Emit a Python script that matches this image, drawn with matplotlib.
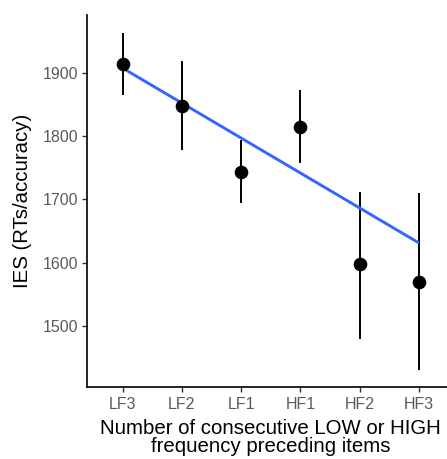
import matplotlib
matplotlib.use("Agg")
import matplotlib.pyplot as plt

plt.rcParams['font.family'] = ['Liberation Sans', 'DejaVu Sans']

# Conditions, in order of preceding-item frequency run
conditions = ["LF3", "LF2", "LF1", "HF1", "HF2", "HF3"]
ies_mean = [1915, 1848, 1744, 1815, 1597, 1570]
ies_upper = [1964, 1919, 1794, 1873, 1712, 1710]
ies_lower = [1865, 1778, 1694, 1757, 1479, 1430]

# Fitted linear trend at the first and last condition
fit_ends = [1908, 1631]

fig = plt.figure(figsize=(4.47, 4.59), dpi=100)
ax = fig.add_axes([87 / 447, 72.3 / 459, 367.6 / 447, 371.7 / 459])

x = list(range(1, len(conditions) + 1))

for xi, lo, hi in zip(x, ies_lower, ies_upper):
    ax.plot([xi, xi], [lo, hi], color="black", lw=1.4, solid_capstyle="butt", zorder=2)

ax.plot([x[0], x[-1]], fit_ends, color="#3366FF", lw=2.1, zorder=3, solid_capstyle="butt")

ax.plot(x, ies_mean, "o", color="black", markersize=8.8, zorder=4)

ax.set_xlim(0.4, 6.6)
ax.set_ylim(1403.5, 1992)
ax.set_xticks(x)
ax.set_xticklabels(conditions)
ax.set_yticks([1500, 1600, 1700, 1800, 1900])

for s in ["top", "right"]:
    ax.spines[s].set_visible(False)
for s in ["left", "bottom"]:
    ax.spines[s].set_linewidth(1.2)
    ax.spines[s].set_color("black")

ax.tick_params(axis="both", length=3.5, width=1.0, color="#333333",
               labelcolor="#5A5A5A", labelsize=11.5)
ax.tick_params(axis="x", pad=4)
ax.tick_params(axis="y", pad=2.5)

ax.set_ylabel("IES (RTs/accuracy)", fontsize=14.7, color="black", labelpad=8)
ax.set_xlabel("Number of consecutive LOW or HIGH\nfrequency preceding items",
              fontsize=14.7, color="black", labelpad=5, linespacing=0.95)

fig.savefig("out.png", dpi=100, facecolor="white")
